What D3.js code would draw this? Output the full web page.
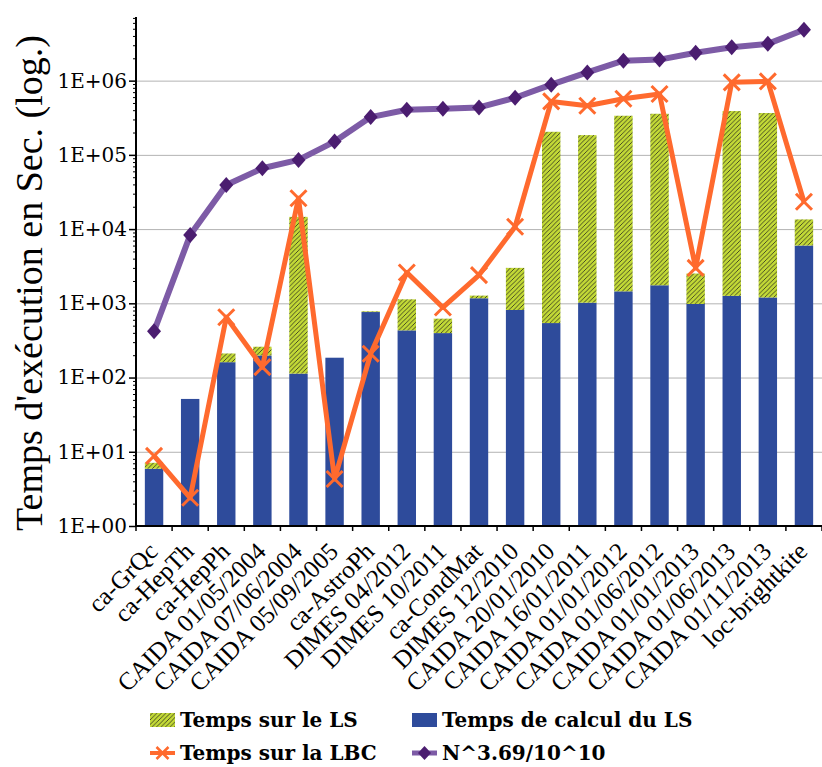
<!DOCTYPE html>
<html>
<head>
<meta charset="utf-8">
<script src="https://cdn.jsdelivr.net/npm/d3@7"></script>
<style>
  body { margin: 0; background: #fff; }
  svg { display: block; }
</style>
</head>
<body>
<script>
// data
var categories = ["ca-GrQc", "ca-HepTh", "ca-HepPh", "CAIDA 01/05/2004", "CAIDA 07/06/2004",
  "CAIDA 05/09/2005", "ca-AstroPh", "DIMES 04/2012", "DIMES 10/2011", "ca-CondMat",
  "DIMES 12/2010", "CAIDA 20/01/2010", "CAIDA 16/01/2011", "CAIDA 01/01/2012",
  "CAIDA 01/06/2012", "CAIDA 01/01/2013", "CAIDA 01/06/2013", "CAIDA 01/11/2013", "loc-brightkite"];

// Temps de calcul du LS (blue, bottom of stack)
var calculLS = [5.9, 51.5, 161, 198, 113, 185, 763, 432, 397, 1170, 813, 542, 1020, 1450, 1750, 980, 1260, 1200, 6000];
// Temps sur le LS (green, stacked on top)
var tempsLS = [1.2, 0, 50, 62, 14500, 0, 17, 700, 224, 100, 2190, 204000, 183500, 335000, 356000, 1540, 388000, 365000, 7500];
// Temps sur la LBC (orange line)
var tempsLBC = [8.8, 2.4, 650, 138, 26000, 4.3, 209, 2600, 880, 2400, 10750, 525000, 459000, 571000, 661000, 3000, 949000, 978000, 23400];
// N^3.69/10^10 (purple line)
var nPow = [420, 8300, 39300, 66000, 85500, 151000, 323000, 405000, 419000, 436000, 589000, 883000, 1290000, 1860000, 1920000, 2370000, 2820000, 3130000, 4840000];

var majorTicks = [1, 10, 100, 1e3, 1e4, 1e5, 1e6];
var legendLabels = ["Temps sur le LS", "Temps de calcul du LS", "Temps sur la LBC", "N^3.69/10^10"];

var W = 822, H = 767;
var plotLeft = 136, plotRight = 822, plotTop = 17, plotBottom = 526;
var serif = "'DejaVu Serif', serif";
var times = "'Liberation Serif', serif";

var cGreen = "#c2d936", cBlue = "#2e4b9b", cOrange = "#ff6a2e", cPurpleLine = "#7d5ba6", cPurple = "#4b1d70";

var svg = d3.select("body").append("svg")
    .attr("width", W)
    .attr("height", H);

var defs = svg.append("defs");
var pat = defs.append("pattern")
    .attr("id", "hatch")
    .attr("patternUnits", "userSpaceOnUse")
    .attr("width", 4.5)
    .attr("height", 4.5);
pat.append("rect").attr("width", 4.5).attr("height", 4.5).attr("fill", cGreen);
pat.append("path")
    .attr("d", "M-1,1 l2,-2 M0,4.5 l4.5,-4.5 M3.5,5.5 l2,-2")
    .attr("stroke", "#2b2b20")
    .attr("stroke-width", 0.8);

var x = d3.scaleBand()
    .domain(categories)
    .range([plotLeft, plotRight])
    .paddingInner(0.49)
    .paddingOuter(0.245);

var y = d3.scaleLog()
    .domain([1, 7.2e6])
    .range([plotBottom, plotTop]);

// gridlines
svg.append("g")
    .attr("transform", "translate(" + plotLeft + ",0)")
    .call(d3.axisLeft(y).tickValues(majorTicks.slice(1)).tickSize(-(plotRight - plotLeft)).tickFormat(""))
    .call(function(g) {
      g.select(".domain").remove();
      g.selectAll("line").attr("stroke", "#b3b3b3").attr("stroke-width", 1);
    });

// stacked bars
var rows = categories.map(function(c, i) {
  return { cat: c, calc: calculLS[i], ls: tempsLS[i] };
});

svg.append("g").selectAll("rect")
    .data(rows)
    .enter().append("rect")
    .attr("x", function(d) { return x(d.cat); })
    .attr("width", x.bandwidth())
    .attr("y", function(d) { return y(d.calc); })
    .attr("height", function(d) { return y(1) - y(d.calc); })
    .attr("fill", cBlue);

svg.append("g").selectAll("rect")
    .data(rows.filter(function(d) { return d.ls > 0; }))
    .enter().append("rect")
    .attr("x", function(d) { return x(d.cat); })
    .attr("width", x.bandwidth())
    .attr("y", function(d) { return y(d.calc + d.ls); })
    .attr("height", function(d) { return y(d.calc) - y(d.calc + d.ls); })
    .attr("fill", "url(#hatch)");

var cx = function(d, i) { return x(categories[i]) + x.bandwidth() / 2; };

// purple line + diamonds
svg.append("path")
    .datum(nPow)
    .attr("d", d3.line().x(cx).y(function(d) { return y(d); }))
    .attr("fill", "none")
    .attr("stroke", cPurpleLine)
    .attr("stroke-width", 6)
    .attr("stroke-linejoin", "round");

svg.append("g").selectAll("path")
    .data(nPow)
    .enter().append("path")
    .attr("transform", function(d, i) { return "translate(" + cx(d, i) + "," + y(d) + ")"; })
    .attr("d", "M0,-8 L7,0 L0,8 L-7,0 Z")
    .attr("fill", cPurple);

// orange line + X markers
svg.append("path")
    .datum(tempsLBC)
    .attr("d", d3.line().x(cx).y(function(d) { return y(d); }))
    .attr("fill", "none")
    .attr("stroke", cOrange)
    .attr("stroke-width", 5)
    .attr("stroke-linejoin", "round");

svg.append("g").selectAll("path")
    .data(tempsLBC)
    .enter().append("path")
    .attr("transform", function(d, i) { return "translate(" + cx(d, i) + "," + y(d) + ")"; })
    .attr("d", "M-8,-8 L8,8 M-8,8 L8,-8")
    .attr("stroke", cOrange)
    .attr("stroke-width", 3);

// y axis, minor ticks then major ticks with labels
var minors = [];
for (var e = 0; e < 7; e++) {
  for (var m = 2; m <= 9; m++) {
    if (m * Math.pow(10, e) <= 7.2e6) minors.push(m * Math.pow(10, e));
  }
}
svg.append("g")
    .attr("transform", "translate(" + plotLeft + ",0)")
    .call(d3.axisLeft(y).tickValues(minors).tickSize(3).tickFormat(""))
    .call(function(g) {
      g.select(".domain").remove();
      g.selectAll("line").attr("stroke", "#000").attr("stroke-width", 1);
    });

svg.append("g")
    .attr("transform", "translate(" + plotLeft + ",0)")
    .call(d3.axisLeft(y).tickValues(majorTicks).tickSize(7).tickPadding(2)
      .tickFormat(function(d) { return "1E+0" + Math.round(Math.log10(d)); }))
    .call(function(g) {
      g.select(".domain").attr("stroke-width", 2).attr("d", "M0," + y(1) + "V" + y.range()[1]);
      g.selectAll("line").attr("stroke-width", 1.5);
      g.selectAll("text").attr("font-family", serif).attr("font-size", 20).attr("fill", "#000");
    });

// x axis line and boundary ticks
var xg = svg.append("g");
xg.append("line")
    .attr("x1", plotLeft).attr("x2", plotRight)
    .attr("y1", y(1)).attr("y2", y(1))
    .attr("stroke", "#000").attr("stroke-width", 2);
xg.selectAll(".tk")
    .data(d3.range(categories.length + 1))
    .enter().append("line")
    .attr("x1", function(i) { return x.range()[0] + i * x.step(); })
    .attr("x2", function(i) { return x.range()[0] + i * x.step(); })
    .attr("y1", y(1)).attr("y2", y(1) + 5)
    .attr("stroke", "#000").attr("stroke-width", 1.5);

xg.selectAll("text")
    .data(categories)
    .enter().append("text")
    .attr("transform", function(d) {
      return "translate(" + (x(d) + x.bandwidth() / 2 + 5) + "," + (y(1) + 27) + ") rotate(-45)";
    })
    .attr("text-anchor", "end")
    .attr("font-family", times)
    .attr("font-size", 25)
    .text(function(d) { return d; });

// y title
svg.append("text")
    .attr("transform", "translate(42,283) rotate(-90)")
    .attr("text-anchor", "middle")
    .attr("font-family", times)
    .attr("font-size", 38)
    .text("Temps d'exécution en Sec. (log.)");

// legend
var lg = svg.append("g").attr("font-family", serif).attr("font-weight", "bold").attr("font-size", 20);
var items = [
  { label: legendLabels[0], col: 0, row: 0, kind: "hatch" },
  { label: legendLabels[1], col: 1, row: 0, kind: "blue" },
  { label: legendLabels[2], col: 0, row: 1, kind: "orange" },
  { label: legendLabels[3], col: 1, row: 1, kind: "purple" }
];
var colX = [150, 412], rowY = [720, 753];
items.forEach(function(it) {
  var gx = colX[it.col], gy = rowY[it.row];
  var g = lg.append("g").attr("transform", "translate(" + gx + "," + gy + ")");
  if (it.kind === "hatch" || it.kind === "blue") {
    g.append("rect").attr("x", 0).attr("y", -7).attr("width", 25).attr("height", 14)
      .attr("fill", it.kind === "hatch" ? "url(#hatch)" : cBlue);
  } else if (it.kind === "orange") {
    g.append("line").attr("x1", 0).attr("x2", 25).attr("stroke", cOrange).attr("stroke-width", 4);
    g.append("path").attr("d", "M6.5,-6 L18.5,6 M6.5,6 L18.5,-6").attr("stroke", cOrange).attr("stroke-width", 2.5);
  } else {
    g.append("line").attr("x1", 0).attr("x2", 25).attr("stroke", cPurpleLine).attr("stroke-width", 5);
    g.append("path").attr("d", "M12.5,-7 L19,0 L12.5,7 L6,0 Z").attr("fill", cPurple);
  }
  g.append("text").attr("x", 30).attr("y", 7).text(it.label);
});
</script>
</body>
</html>
